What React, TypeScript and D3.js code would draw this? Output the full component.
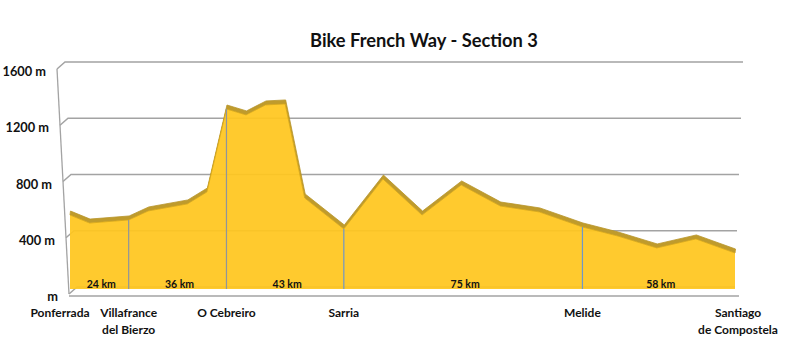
import React from "react";
import * as d3 from "d3";

const title = "Bike French Way - Section 3";

// Elevation profile vertices: position along the route (category index) and elevation (m)
const profileIndex = [0, 1, 3, 4, 6, 7, 8, 9, 10, 11, 12, 14, 16, 18, 20, 22, 24, 26.2, 28, 30, 32, 34];
const profileElevation = [526, 469, 491, 555, 605, 690, 1280, 1238, 1309, 1316, 647, 427, 782, 526, 740, 590, 548, 441, 377, 292, 356, 256];

// Towns (stage ends)
const townNames = ["Ponferrada", "Villafrance\ndel Bierzo", "O Cebreiro", "Sarria", "Melide", "Santiago\nde Compostela"];
const townIndex = [0, 3, 8, 14, 26.2, 34];

// Stage distances between consecutive towns
const stageKm = ["24 km", "36 km", "43 km", "75 km", "58 km"];

// Elevation axis
const yTicks = [0, 400, 800, 1200, 1600];
const yTickLabels = ["m", "400 m", "800 m", "1200 m", "1600 m"];

const W = 800;
const H = 362;
const FONT = "Lato, 'Open Sans', sans-serif";

export default function App() {
  const x = d3.scaleLinear().domain([0, 34]).range([70, 735]);
  // area (front face) elevation scale
  const yA = d3.scaleLinear().domain([0, 1600]).range([289, 64]);
  // back wall scale
  const yB = d3.scaleLinear().domain([0, 1600]).range([287, 62]);
  // left wall front edge x and right edge x as function of height (perspective)
  const leftX = d3.scaleLinear().domain([0, 1600]).range([69, 57]);
  const rightX = d3.scaleLinear().domain([0, 1600]).range([735, 743]);
  const depthX = 8;
  const depthY = 7;

  const pts: [number, number][] = profileIndex.map((d, i) => [d, profileElevation[i]]);

  const front = d3
    .area<[number, number]>()
    .x((d) => x(d[0]))
    .y0(yA(0))
    .y1((d) => yA(d[1]));

  const line = d3
    .line<[number, number]>()
    .x((d) => x(d[0]))
    .y((d) => yA(d[1]));

  // top face band: front edge and same edge lifted
  const bandShift = 4;
  const frontLine = pts.map((d) => [x(d[0]), yA(d[1])] as [number, number]);
  const backLine = pts.map((d) => [x(d[0]) + 0.5, yA(d[1]) - bandShift] as [number, number]);
  const bandPath =
    "M" +
    frontLine.map((p) => p.join(",")).join("L") +
    "L" +
    backLine
      .slice()
      .reverse()
      .map((p) => p.join(","))
      .join("L") +
    "Z";

  const gridColor = "#a3a3a3";

  const elevAt = (idx: number) => {
    const i = profileIndex.indexOf(idx);
    return profileElevation[i];
  };

  return (
    <svg
      width={W}
      height={H}
      viewBox={`0 0 ${W} ${H}`}
      style={{ position: "absolute", left: 0, top: 0, background: "#fff" }}
    >
      <rect x={0} y={0} width={W} height={H} fill="#fff" />
      {/* Title */}
      <text
        x={424}
        y={47}
        textAnchor="middle"
        fontFamily={FONT}
        fontWeight="bold"
        fontSize={18.3}
        fill="#111"
      >
        {title}
      </text>

      {/* Walls: left edge */}
      <line
        x1={leftX(1600)}
        y1={yB(1600) + depthY}
        x2={leftX(0)}
        y2={yB(0) + depthY}
        stroke={gridColor}
        strokeWidth={1.3}
      />
      {/* Gridlines on back wall with a short diagonal on the side wall */}
      {yTicks.map((v) => {
        const fx = leftX(v);
        const fy = yB(v) + depthY;
        const bx = fx + depthX;
        const by = yB(v);
        return (
          <g key={v}>
            <polyline
              points={`${fx},${fy} ${bx},${by} ${rightX(v)},${by}`}
              fill="none"
              stroke={gridColor}
              strokeWidth={1.5}
            />
          </g>
        );
      })}
      {/* Floor front edge */}
      <line
        x1={leftX(0)}
        y1={yB(0) + depthY + 2}
        x2={rightX(0) + 4}
        y2={yB(0) + depthY + 2}
        stroke={gridColor}
        strokeWidth={1.5}
      />

      {/* Y labels */}
      {yTicks.map((v, i) => (
        <text
          key={v}
          x={leftX(v) - 11}
          y={yB(v) + depthY + 7}
          textAnchor="end"
          fontFamily={FONT}
          fontWeight="bold"
          fontSize={12.8}
          fill="#111"
        >
          {yTickLabels[i]}
        </text>
      ))}

      {/* Area */}
      <path d={bandPath} fill="#bf9b2c" stroke="#b8942a" strokeWidth={0.8} strokeLinejoin="round" />
      <path d={front(pts) || ""} fill="#ffc61e" fillOpacity={0.93} />
      <path d={line(pts) || ""} fill="none" stroke="#d9a91c" strokeWidth={0.8} />

      {/* Town dividers */}
      {townIndex.slice(1, -1).map((t, i) => (
        <line
          key={t}
          x1={x(t)}
          x2={x(t)}
          y1={yA(elevAt(t))}
          y2={yA(0)}
          stroke={i < 2 ? "#8f959c" : "#6f97c8"}
          strokeWidth={1.2}
        />
      ))}

      {/* Stage distances */}
      {stageKm.map((k, i) => (
        <text
          key={k}
          x={(x(townIndex[i]) + x(townIndex[i + 1])) / 2 + 2}
          y={288}
          textAnchor="middle"
          fontFamily={FONT}
          fontWeight="bold"
          fontSize={10.5}
          fill="#111"
        >
          {k}
        </text>
      ))}

      {/* Town labels */}
      {townNames.map((n, i) => {
        const lines = n.split("\n");
        const cx = x(townIndex[i]) + (i === 0 ? -10 : i === townNames.length - 1 ? 3 : 0);
        return (
          <text
            key={n}
            x={cx}
            y={317}
            textAnchor="middle"
            fontFamily={FONT}
            fontWeight="bold"
            fontSize={12}
            fill="#111"
          >
            {lines.map((l, j) => (
              <tspan key={j} x={cx} dy={j === 0 ? 0 : 17}>
                {l}
              </tspan>
            ))}
          </text>
        );
      })}
    </svg>
  );
}
